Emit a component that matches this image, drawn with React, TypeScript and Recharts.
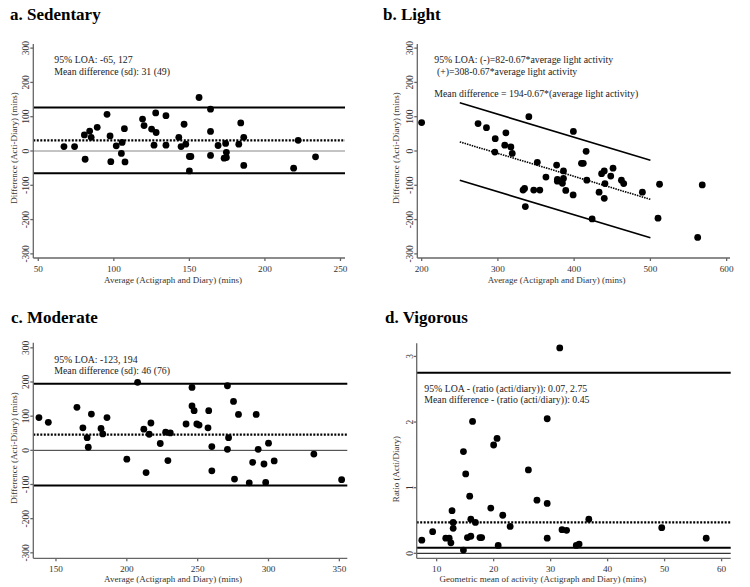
import { ScatterChart, Scatter, XAxis, YAxis, ReferenceLine } from "recharts";

const FONT = '"Liberation Serif", "Times New Roman", serif';

// a. Sedentary: [average, difference]
const sedentary: [number, number][] = [
  [67, 13], [74, 13], [80.5, 47], [81, -24], [84, 58], [85, 40], [89, 69], [95.5, 107],
  [97.5, 44], [98, -31], [101.6, 15], [105, -7], [105.5, 25], [107, 65], [107.4, -32],
  [119, 93], [120, 74], [125, 64], [126.6, 17], [127.7, 111], [128, 54], [134.5, 103],
  [134.5, 17], [143, 40], [144.5, 13], [146.5, 78], [147.6, 20], [150, -16], [151, -16],
  [150, -58], [156.4, 156], [164, 122], [164, 57], [164, -13], [169, 16], [173, -21],
  [174, 22], [174.5, -19], [174.5, -4], [182.7, 20], [184, 82], [186, 40], [186, -42],
  [219, -50], [222, 31], [233.5, -17],
];
const sedentaryLimits = { lower: -65, mean: 31, upper: 127 };

// b. Light: [average, difference]
const light: [number, number][] = [
  [200, 83], [274, 80], [285, 68], [296.5, 36], [296, -3], [310.5, 53], [309, 17],
  [317, 12], [318.8, -7], [340.6, 100], [333, -114], [335, -109], [336, -162], [347, -114],
  [355, -114], [351.7, -33], [363, -76], [377, -41], [378, -83], [378, -88], [386, -80],
  [384.6, -94], [386, -58], [389, -115], [398.7, -128], [399, 57], [409.6, -36], [412, -36],
  [415.7, -1], [416.6, -85], [423.6, -198], [432.7, -120], [436, -66], [439.5, -58],
  [440.4, -95], [439.5, -138], [448, -73], [451, -50], [462, -85], [465, -95], [489.5, -120],
  [510, -196], [512, -97], [562, -252], [568, -99],
];
// regression-based limits: intercept - 0.67 * average, drawn over this range
const lightRange = [250, 500];
const lightSlope = -0.67;
const lightIntercepts = { lower: 82, mean: 194, upper: 308 };

// c. Moderate: [average, difference]
const moderate: [number, number][] = [
  [138, 96], [144.6, 82], [164.8, 126], [169, 66], [172, 37], [172.8, 9], [175, 106],
  [181.8, 64], [183, 48], [186, 96], [200, -26], [207.6, 199], [212, 62], [213.6, -65],
  [215.8, 47], [217, 80], [223.6, 20], [227.4, 53], [229, -30], [230.7, 51], [241.8, 77],
  [246, 184], [246, 130], [247.5, 116], [249.4, 77], [251, 74], [257.3, 66], [257.8, 116],
  [260, 11], [260, -60], [271, 189], [271, 3], [271.8, 37], [275.3, 143], [276, -84],
  [278.8, 105], [286.4, -95], [288.8, -35], [291.3, 105], [292.7, 3], [296.8, -40],
  [298, -94], [300, 21], [304, -31], [332, -11], [351.6, -86],
];
const moderateLimits = { lower: -103, mean: 46, upper: 195 };

// d. Vigorous: [geometric mean, ratio]
const vigorous: [number, number][] = [
  [7.4, 0.2], [9.3, 0.33], [11.6, 0.23], [12.2, 0.23], [12.5, 0.16], [12.7, 0.65],
  [12.9, 0.47], [12.9, 0.38], [14.7, 1.55], [14.7, 0.05], [15.1, 1.21], [15.4, 0.24],
  [15.8, 0.87], [16.0, 0.52], [16.0, 0.26], [16.3, 2.01], [16.8, 0.47], [17.6, 0.24],
  [17.9, 0.24], [19.5, 0.69], [20.0, 1.65], [20.6, 1.75], [20.8, 0.12], [21.6, 0.58],
  [22.9, 0.41], [26.1, 1.27], [27.6, 0.81], [29.4, 2.05], [29.4, 0.76], [29.4, 0.23],
  [31.6, 3.13], [32.0, 0.36], [32.8, 0.35], [34.5, 0.12], [35.0, 0.14], [36.7, 0.52],
  [49.5, 0.39], [57.3, 0.23],
];
const vigorousLimits = { lower: 0.086, mean: 0.47, upper: 2.75 };

const diffTicks = [-300, -200, -100, 0, 100, 200, 300];
const sedentaryTicks = [50, 100, 150, 200, 250];
const lightTicks = [200, 300, 400, 500, 600];
const moderateTicks = [150, 200, 250, 300, 350];
const vigorousTicks = [10, 20, 30, 40, 50, 60];
const ratioTicks = [0, 1, 2, 3];

const toPts = (rows: [number, number][]) => rows.map(([x, y]) => ({ x, y }));

const YTick = ({ x, y, payload }: any) => (
  <text
    x={x}
    y={y}
    transform={`rotate(-90 ${x} ${y})`}
    textAnchor="middle"
    fontFamily={FONT}
    fontSize={9.5}
    fill="#333"
  >
    {payload.value}
  </text>
);

const XTick = ({ x, y, payload }: any) => (
  <text x={x} y={y + 8.5} textAnchor="middle" fontFamily={FONT} fontSize={9.2} fill="#333">
    {payload.value}
  </text>
);

const Dot = (p: any) => <circle cx={p.cx} cy={p.cy} r={3.4} fill="#000" />;

type HLine = { y: number; stroke: string; width: number; dash?: string };
type Seg = { x1: number; x2: number; y1: number; y2: number; width: number; dash?: string };

function Panel(props: {
  left: number;
  top: number;
  w: number;
  h: number;
  margin: { left: number; top: number; right: number; bottom: number };
  xDomain: [number, number];
  yDomain: [number, number];
  xTicks: number[];
  yTicks: number[];
  data: { x: number; y: number }[];
  hLines?: HLine[];
  segs?: Seg[];
}) {
  const axis = { stroke: "#666", strokeWidth: 1.3 };
  return (
    <div style={{ position: "absolute", left: props.left, top: props.top }}>
      <ScatterChart width={props.w} height={props.h} margin={props.margin}>
        <XAxis
          type="number"
          dataKey="x"
          domain={props.xDomain}
          ticks={props.xTicks}
          allowDataOverflow
          axisLine={axis}
          tickLine={axis}
          tickSize={3}
          tickMargin={2}
          height={25}
          tick={XTick}
        />
        <YAxis
          type="number"
          dataKey="y"
          domain={props.yDomain}
          ticks={props.yTicks}
          allowDataOverflow
          axisLine={axis}
          tickLine={axis}
          tickSize={3}
          tickMargin={1}
          width={30}
          tick={YTick}
        />
        {(props.hLines || []).map((l, i) => (
          <ReferenceLine
            key={"h" + i}
            y={l.y}
            stroke={l.stroke}
            strokeWidth={l.width}
            strokeDasharray={l.dash}
          />
        ))}
        {(props.segs || []).map((s, i) => (
          <ReferenceLine
            key={"s" + i}
            segment={[
              { x: s.x1, y: s.y1 },
              { x: s.x2, y: s.y2 },
            ]}
            stroke="#000"
            strokeWidth={s.width}
            strokeDasharray={s.dash}
          />
        ))}
        <Scatter data={props.data} shape={Dot} isAnimationActive={false} />
      </ScatterChart>
    </div>
  );
}

const solid = (y: number): HLine => ({ y, stroke: "#000", width: 2 });
const dotted = (y: number): HLine => ({ y, stroke: "#000", width: 2.3, dash: "2 1.5" });

const lightSeg = (b: number, width: number, dash?: string): Seg => ({
  x1: lightRange[0],
  x2: lightRange[1],
  y1: b + lightSlope * lightRange[0],
  y2: b + lightSlope * lightRange[1],
  width,
  dash,
});

const txt = { fontFamily: FONT, fontSize: 9.8, fill: "#222" };
const title = { fontFamily: FONT, fontSize: 17, fontWeight: 700, fill: "#000" };
const axTitle = { fontFamily: FONT, fontSize: 9, fill: "#333" };

export default function App() {
  return (
    <div
      style={{
        position: "absolute",
        left: 0,
        top: 0,
        width: 750,
        height: 587,
        background: "#fff",
        overflow: "hidden",
      }}
    >
      <Panel
        left={0}
        top={0}
        w={375}
        h={290}
        margin={{ left: 3.3, top: 44, right: 30, bottom: 7 }}
        xDomain={[46.7, 253]}
        yDomain={[-312, 312]}
        xTicks={sedentaryTicks}
        yTicks={diffTicks}
        data={toPts(sedentary)}
        hLines={[
          { y: 0, stroke: "#888", width: 1 },
          solid(sedentaryLimits.upper),
          solid(sedentaryLimits.lower),
          dotted(sedentaryLimits.mean),
        ]}
      />
      <Panel
        left={375}
        top={0}
        w={375}
        h={290}
        margin={{ left: 12.3, top: 44, right: 20, bottom: 7 }}
        xDomain={[194.3, 604.4]}
        yDomain={[-312, 312]}
        xTicks={lightTicks}
        yTicks={diffTicks}
        data={toPts(light)}
        segs={[
          lightSeg(lightIntercepts.upper, 1.6),
          lightSeg(lightIntercepts.lower, 1.6),
          lightSeg(lightIntercepts.mean, 1.6, "1.5 1"),
        ]}
      />
      <Panel
        left={0}
        top={290}
        w={375}
        h={297}
        margin={{ left: 3.3, top: 52.7, right: 27.7, bottom: 3.7 }}
        xDomain={[134, 355.6]}
        yDomain={[-316, 315]}
        xTicks={moderateTicks}
        yTicks={diffTicks}
        data={toPts(moderate)}
        hLines={[
          { y: 0, stroke: "#333", width: 1 },
          solid(moderateLimits.upper),
          solid(moderateLimits.lower),
          dotted(moderateLimits.mean),
        ]}
      />
      <Panel
        left={375}
        top={290}
        w={375}
        h={297}
        margin={{ left: 11.7, top: 53.3, right: 19.3, bottom: 3.7 }}
        xDomain={[6.5, 61.6]}
        yDomain={[-0.076, 3.2]}
        xTicks={vigorousTicks}
        yTicks={ratioTicks}
        data={toPts(vigorous)}
        hLines={[
          { y: 0, stroke: "#000", width: 1 },
          solid(vigorousLimits.upper),
          solid(vigorousLimits.lower),
          dotted(vigorousLimits.mean),
        ]}
      />

      <svg
        width={750}
        height={587}
        style={{ position: "absolute", left: 0, top: 0, pointerEvents: "none" }}
      >
        <text x={10} y={19.5} {...title}>a. Sedentary</text>
        <text x={383} y={19.5} {...title}>b. Light</text>
        <text x={11} y={323} {...title}>c. Moderate</text>
        <text x={385} y={323} {...title}>d. Vigorous</text>

        <text x={54.3} y={63} {...txt}>95% LOA: -65, 127</text>
        <text x={54.3} y={74.5} {...txt}>Mean difference (sd): 31 (49)</text>

        <text x={434.3} y={63} {...txt}>95% LOA: (-)=82-0.67*average light activity</text>
        <text x={437} y={74.5} {...txt}>(+)=308-0.67*average light activity</text>
        <text x={434.3} y={96.5} {...txt}>Mean difference = 194-0.67*(average light activity)</text>

        <text x={54.3} y={363} {...txt}>95% LOA: -123, 194</text>
        <text x={54.3} y={374} {...txt}>Mean difference (sd): 46 (76)</text>

        <text x={424.3} y={392} {...txt}>95% LOA - (ratio (acti/diary)): 0.07, 2.75</text>
        <text x={424.3} y={403} {...txt}>Mean difference - (ratio (acti/diary)): 0.45</text>

        <text x={173} y={283} textAnchor="middle" {...axTitle}>Average (Actigraph and Diary) (mins)</text>
        <text x={556.7} y={283} textAnchor="middle" {...axTitle}>Average (Actigraph and Diary) (mins)</text>
        <text x={173} y={581.5} textAnchor="middle" {...axTitle}>Average (Actigraph and Diary) (mins)</text>
        <text x={542.8} y={581.5} textAnchor="middle" {...axTitle}>
          Geometric mean of activity (Actigraph and Diary) (mins)
        </text>

        <text x={16.5} y={148} transform="rotate(-90 16.5 148)" textAnchor="middle" {...axTitle}>
          Difference (Acti-Diary) (mins)
        </text>
        <text x={399} y={148} transform="rotate(-90 399 148)" textAnchor="middle" {...axTitle}>
          Difference (Acti-Diary) (mins)
        </text>
        <text x={16.5} y={448} transform="rotate(-90 16.5 448)" textAnchor="middle" {...axTitle}>
          Difference (Acti-Diary) (mins)
        </text>
        <text x={399} y={469} transform="rotate(-90 399 469)" textAnchor="middle" {...axTitle}>
          Ratio (Acti/Diary)
        </text>
      </svg>
    </div>
  );
}
